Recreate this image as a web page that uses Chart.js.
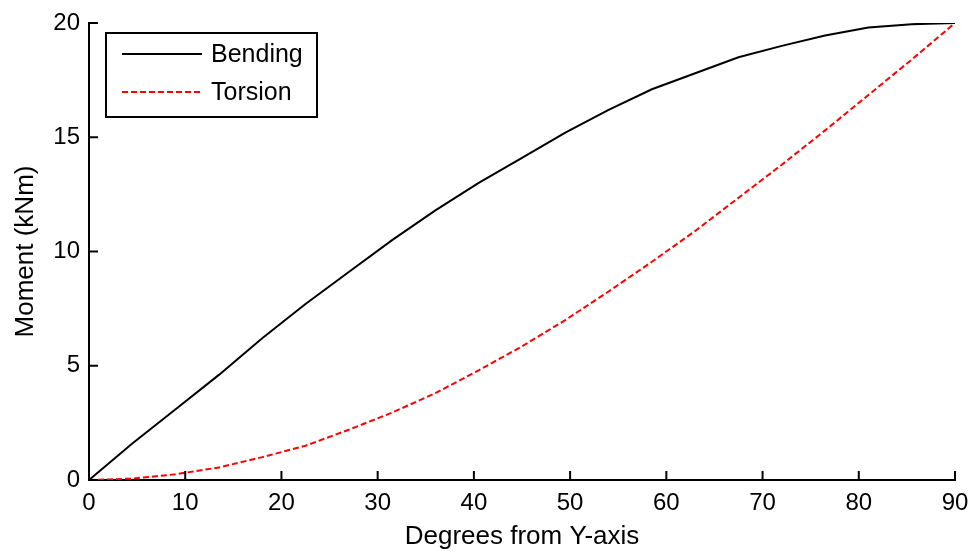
<!DOCTYPE html>
<html>
<head>
<meta charset="utf-8">
<script src="https://cdn.jsdelivr.net/npm/chart.js@4.4.0/dist/chart.umd.min.js"></script>
<style>
  body { margin: 0; background: #fff; }
  #wrap { width: 971px; height: 552px; }
</style>
</head>
<body>
<div id="wrap"><canvas id="chart" width="971" height="552"></canvas></div>
<script>
// angles sampled every 4.5 degrees
var degrees = [0, 4.5, 9, 13.5, 18, 22.5, 27, 31.5, 36, 40.5, 45, 49.5, 54, 58.5, 63, 67.5, 72, 76.5, 81, 85.5, 90];
var bending = [0, 1.6, 3.1, 4.6, 6.2, 7.7, 9.1, 10.5, 11.8, 13.0, 14.1, 15.2, 16.2, 17.1, 17.8, 18.5, 19.0, 19.45, 19.8, 19.95, 20];
var torsion = [0, 0.06, 0.25, 0.55, 1.0, 1.5, 2.2, 2.95, 3.8, 4.8, 5.85, 7.0, 8.25, 9.55, 10.9, 12.35, 13.8, 15.3, 16.85, 18.4, 20];
var xTicks = [0, 10, 20, 30, 40, 50, 60, 70, 80, 90];
var yTicks = [0, 5, 10, 15, 20];
var seriesNames = ['Bending', 'Torsion'];

var FONT = "'Liberation Sans', Arial, sans-serif";

function toPoints(xs, ys) {
    return xs.map(function(x, i) { return {x: x, y: ys[i]}; });
}

// inward tick marks, like the original plot
var innerTicks = {
    id: 'innerTicks',
    afterDraw: function(chart) {
        var ctx = chart.ctx;
        var xs = chart.scales.x, ys = chart.scales.y;
        var len = 9;
        ctx.save();
        ctx.strokeStyle = '#000';
        ctx.lineWidth = 2;
        ctx.beginPath();
        xTicks.forEach(function(v) {
            var px = xs.getPixelForValue(v);
            ctx.moveTo(px, ys.bottom);
            ctx.lineTo(px, ys.bottom - len);
        });
        yTicks.forEach(function(v) {
            var py = ys.getPixelForValue(v);
            ctx.moveTo(xs.left, py);
            ctx.lineTo(xs.left + len, py);
        });
        ctx.stroke();
        ctx.restore();
    }
};

// boxed legend in the top-left corner of the plot
var boxLegend = {
    id: 'boxLegend',
    afterDraw: function(chart) {
        var ctx = chart.ctx;
        var a = chart.chartArea;
        var x0 = a.left + 17, y0 = a.top + 10, w = 211, h = 84;
        ctx.save();
        ctx.fillStyle = '#fff';
        ctx.fillRect(x0, y0, w, h);
        ctx.strokeStyle = '#000';
        ctx.lineWidth = 2;
        ctx.strokeRect(x0, y0, w, h);
        ctx.font = '25px ' + FONT;
        ctx.textBaseline = 'middle';
        chart.data.datasets.forEach(function(ds, i) {
            var ly = y0 + 21 + i * 38;
            ctx.beginPath();
            ctx.strokeStyle = ds.borderColor;
            ctx.lineWidth = ds.borderWidth;
            ctx.setLineDash(ds.borderDash || []);
            ctx.moveTo(x0 + 16, ly);
            ctx.lineTo(x0 + 96, ly);
            ctx.stroke();
            ctx.setLineDash([]);
            ctx.fillStyle = '#000';
            ctx.fillText(ds.label, x0 + 105, ly + 1);
        });
        ctx.restore();
    }
};

var chart = new Chart(document.getElementById('chart'), {
    type: 'line',
    data: {
        datasets: [{
            label: seriesNames[0],
            data: toPoints(degrees, bending),
            borderColor: '#000000',
            borderWidth: 2,
            pointRadius: 0,
            tension: 0,
            fill: false
        }, {
            label: seriesNames[1],
            data: toPoints(degrees, torsion),
            borderColor: '#ff0000',
            borderWidth: 2,
            borderDash: [6, 3],
            pointRadius: 0,
            tension: 0,
            fill: false
        }]
    },
    options: {
        responsive: false,
        devicePixelRatio: 1,
        animation: false,
        layout: { padding: { top: 23, right: 16, left: 0, bottom: 0 } },
        plugins: { legend: { display: false }, tooltip: { enabled: false } },
        scales: {
            x: {
                type: 'linear',
                min: 0,
                max: 90,
                afterBuildTicks: function(s) { s.ticks = xTicks.map(function(v) { return {value: v}; }); },
                afterFit: function(s) { s.height = 72; s.paddingLeft = 0; s.paddingRight = 0; },
                grid: { display: false, drawTicks: false },
                border: { display: true, color: '#000', width: 2 },
                ticks: { color: '#000', padding: 9, maxRotation: 0, font: { family: FONT, size: 24 } },
                title: {
                    display: true,
                    text: 'Degrees from Y-axis',
                    color: '#000',
                    padding: { top: 0, bottom: 0 },
                    font: { family: FONT, size: 26, lineHeight: 1.2 }
                }
            },
            y: {
                type: 'linear',
                min: 0,
                max: 20,
                afterBuildTicks: function(s) { s.ticks = yTicks.map(function(v) { return {value: v}; }); },
                afterFit: function(s) { s.width = 89; s.paddingTop = 0; s.paddingBottom = 0; },
                grid: { display: false, drawTicks: false },
                border: { display: true, color: '#000', width: 2 },
                ticks: { color: '#000', padding: 9, font: { family: FONT, size: 24 } },
                title: {
                    display: true,
                    text: 'Moment (kNm)',
                    color: '#000',
                    padding: { top: 10, bottom: 0 },
                    font: { family: FONT, size: 26, lineHeight: 1.2 }
                }
            }
        }
    },
    plugins: [innerTicks, boxLegend]
});
</script>
</body>
</html>
